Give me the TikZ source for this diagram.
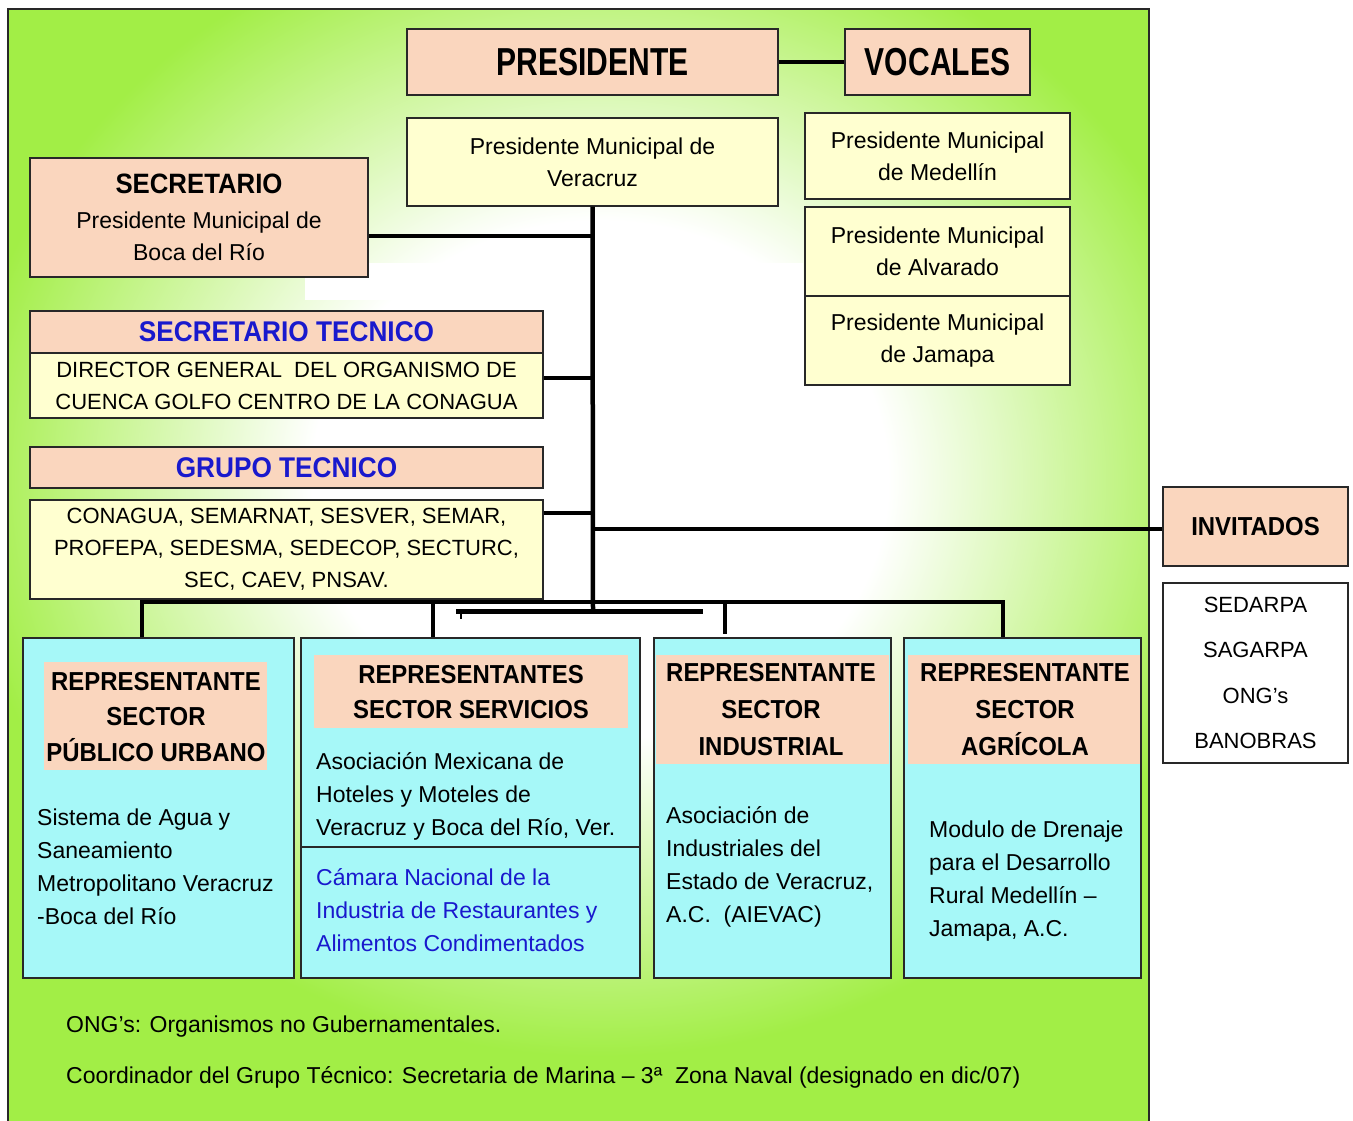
\documentclass[tikz,border=0pt]{standalone}
\usepackage{fontspec}
\setmainfont{Liberation Sans}
\newfontfamily\hdfont[FakeStretch=0.92]{Liberation Sans}
\newfontfamily\nrfont[FakeStretch=0.77]{Liberation Sans}
\definecolor{frameg}{RGB}{162,238,70}
\definecolor{peach}{RGB}{250,214,190}
\definecolor{lyel}{RGB}{255,255,208}
\definecolor{cyanb}{RGB}{166,248,248}
\definecolor{bluet}{RGB}{25,25,205}
\definecolor{bord}{RGB}{40,40,40}
\pgfdeclareradialshading{glow}{\pgfpoint{0bp}{0bp}}{color(0bp)=(white); color(9bp)=(white); color(20bp)=(frameg); color(50bp)=(frameg)}
\begin{document}
\begin{tikzpicture}[x=1pt,y=-1pt,
  box/.style={draw=bord, line width=1.3pt, inner sep=0pt, align=center},
  plain/.style={inner sep=0pt, align=center},
  conn/.style={line width=4.5pt, black},
  reg/.style={font=\fontsize{23}{32}\selectfont},
  small/.style={font=\fontsize{22}{32}\selectfont},
  big/.style={font=\nrfont\bfseries\fontsize{39}{39}\selectfont},
  bluehd/.style={font=\hdfont\bfseries\fontsize{28.5}{30}\selectfont, text=bluet},
  bodyl/.style={inner sep=0pt, align=left, anchor=west, font=\fontsize{23}{33}\selectfont}]
\useasboundingbox (0,0) rectangle (1353,1120);
\fill[white] (0,0) rectangle (1353,1120);
\begin{scope}
  \clip (8,9) rectangle (1149,1125);
  \fill[frameg] (8,9) rectangle (1149,1125);
  \shade[shading=glow] (-200,-240) rectangle (1400,1200);
  \fill[white] (305,263) rectangle (803,300);
\end{scope}
\draw[line width=2pt, bord] (8,9) rectangle (1149,1125);

% top
\node[box, fill=peach, minimum width=371pt, minimum height=66pt, big] (pres) at (592.5,62) {PRESIDENTE};
\node[box, fill=peach, minimum width=185pt, minimum height=66pt, big] (voc) at (937.5,62) {VOCALES};
\node[box, fill=lyel, minimum width=371pt, minimum height=88pt, reg] (ver) at (592.5,162) {Presidente Municipal de\\Veracruz};
\node[box, fill=lyel, minimum width=265pt, minimum height=86pt, reg] (med) at (937.5,156) {Presidente Municipal\\de Medellín};
\node[box, fill=lyel, minimum width=265pt, minimum height=89pt, reg] (alv) at (937.5,251.5) {Presidente Municipal\\de Alvarado};
\node[box, fill=lyel, minimum width=265pt, minimum height=89pt, reg] (jam) at (937.5,340.5) {Presidente Municipal\\de Jamapa};
\node[box, fill=peach, minimum width=338pt, minimum height=119pt, reg] (sec) at (199,217.5) {{\hdfont\bfseries\fontsize{28}{30}\selectfont SECRETARIO}\\[3pt]Presidente Municipal de\\Boca del Río};

% secretario tecnico, grupo tecnico
\node[box, fill=peach, minimum width=513pt, minimum height=42pt, bluehd] (sth) at (286.5,332) {SECRETARIO TECNICO};
\node[box, fill=lyel, minimum width=513pt, minimum height=65pt, small] (stb) at (286.5,385.5) {DIRECTOR GENERAL~ DEL ORGANISMO DE\\CUENCA GOLFO CENTRO DE LA CONAGUA};
\node[box, fill=peach, minimum width=513pt, minimum height=41pt, bluehd] (gth) at (286.5,467.5) {GRUPO TECNICO};
\node[box, fill=lyel, minimum width=513pt, minimum height=99pt, small] (gtb) at (286.5,549.5) {CONAGUA, SEMARNAT, SESVER, SEMAR,\\PROFEPA, SEDESMA, SEDECOP, SECTURC,\\SEC, CAEV, PNSAV.};

% invitados
\node[box, fill=peach, minimum width=185pt, minimum height=79pt, font=\hdfont\bfseries\fontsize{26}{30}\selectfont, text depth=-6pt] (inv) at (1255.5,526.5) {INVITADOS};
\node[box, fill=white, minimum width=185pt, minimum height=180pt, font=\fontsize{22}{45.5}\selectfont] (lst) at (1255.5,673) {SEDARPA\\SAGARPA\\ONG’s\\BANOBRAS};

% bottom boxes
\node[box, fill=cyanb, minimum width=271pt, minimum height=340pt] (b1) at (158.5,808) {};
\node[plain, fill=peach, minimum width=223pt, minimum height=108pt] (h1) at (155.5,716) {};
\node[plain, font=\hdfont\bfseries\fontsize{26}{35.5}\selectfont] (t1) at (156,717) {REPRESENTANTE\\SECTOR\\PÚBLICO URBANO};
\node[bodyl] (c1) at (37,867) {Sistema de Agua y\\Saneamiento\\Metropolitano Veracruz\\-Boca del Río};

\node[box, fill=cyanb, minimum width=339pt, minimum height=340pt] (b2) at (470.5,808) {};
\node[plain, fill=peach, minimum width=314pt, minimum height=73pt] (h2) at (471,691.5) {};
\node[plain, font=\hdfont\bfseries\fontsize{26}{35}\selectfont] (t2) at (471,692.5) {REPRESENTANTES\\SECTOR SERVICIOS};
\coordinate (dv) at (470.5,847);
\draw[line width=1.3pt, bord] (dv -| b2.west) -- (dv -| b2.east);
\node[bodyl] (c2) at (316,796) {Asociación Mexicana de\\Hoteles y Moteles de\\Veracruz y Boca del Río, Ver.};
\node[bodyl, text=bluet] (c2b) at (316,910) {Cámara Nacional de la\\Industria de Restaurantes y\\Alimentos Condimentados};

\node[box, fill=cyanb, minimum width=237pt, minimum height=340pt] (b3) at (772.5,808) {};
\node[plain, fill=peach, minimum width=233pt, minimum height=109pt] (h3) at (772.5,709.5) {};
\node[plain, font=\hdfont\bfseries\fontsize{26}{37}\selectfont] (t3) at (771,710) {REPRESENTANTE\\SECTOR\\INDUSTRIAL};
\node[bodyl] (c3) at (666,867) {Asociación de\\Industriales del\\Estado de Veracruz,\\A.C.~ (AIEVAC)};

\node[box, fill=cyanb, minimum width=237pt, minimum height=340pt] (b4) at (1022.5,808) {};
\node[plain, fill=peach, minimum width=232pt, minimum height=109pt] (h4) at (1024,709.5) {};
\node[plain, font=\hdfont\bfseries\fontsize{26}{37}\selectfont] (t4) at (1025,710) {REPRESENTANTE\\SECTOR\\AGRÍCOLA};
\node[bodyl] (c4) at (929,881) {Modulo de Drenaje\\para el Desarrollo\\Rural Medellín –\\Jamapa, A.C.};

% footnotes
\node[bodyl] (f1) at (66,1027) {ONG’s: Organismos no Gubernamentales.};
\node[bodyl] (f2) at (66,1077) {Coordinador del Grupo Técnico: Secretaria de Marina – 3ª~ Zona Naval (designado en dic/07)};

% connectors
\draw[conn] (pres.east) -- (voc.west);
\coordinate (vb) at (593,611);
\draw[conn] (ver.south) -- (vb);
\coordinate (s1) at (593,236);
\coordinate (s2) at (593,378);
\coordinate (s3) at (593,513);
\coordinate (s4) at (593,529);
\draw[conn] (s1 -| sec.east) -- (s1);
\draw[conn] (s2 -| stb.east) -- (s2);
\draw[conn] (s3 -| gtb.east) -- (s3);
\draw[conn] (s4) -- (s4 -| inv.west);
\coordinate (d1) at (142,602);
\coordinate (d2) at (433,602);
\coordinate (d3) at (725,602);
\coordinate (d4) at (1003,602);
\draw[conn, line width=4pt] (d1 |- b1.north) -- (d1) -- (d4) -- (d4 |- b4.north);
\draw[conn, line width=4pt] (d2) -- (d2 |- b2.north);
\draw[conn, line width=4pt] (d3) -- (725,634);
\coordinate (e1) at (456,611);
\coordinate (e2) at (703,611);
\coordinate (e3) at (461,619);
\draw[conn, line width=5pt] (e1) -- (e2);
\draw[line width=2.5pt] (e1 -| e3) -- (e3);
\end{tikzpicture}
\end{document}
